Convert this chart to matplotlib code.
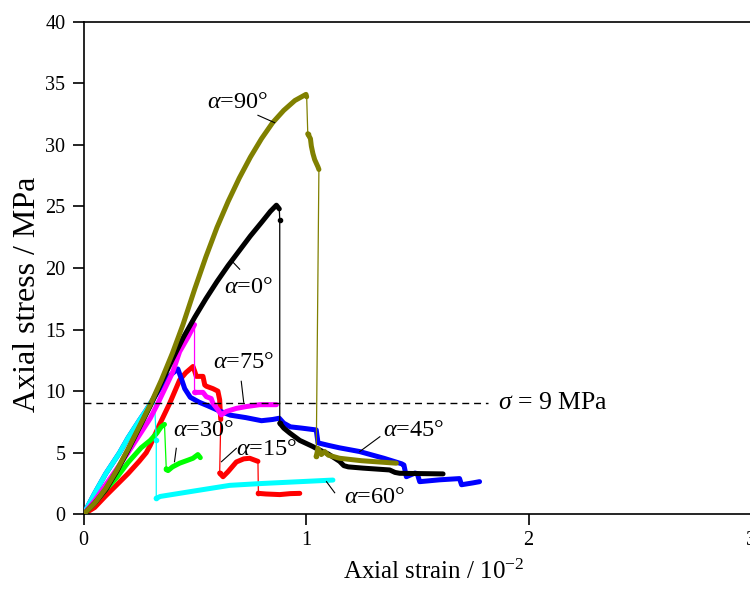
import numpy as np
import matplotlib
matplotlib.use("Agg")
import matplotlib.pyplot as plt

plt.rcParams['font.family'] = ['Liberation Serif', 'DejaVu Serif']
plt.rcParams['mathtext.fontset'] = 'custom'
plt.rcParams['mathtext.rm'] = 'Liberation Serif'
plt.rcParams['mathtext.it'] = 'Liberation Serif:italic'

# ---------------- data (strain in 1e-2, stress in MPa) ----------------
# "jumps": index i where the step from point i to i+1 is a sudden drop (thin line)
a0_strain = [0, 0.05, 0.1, 0.15, 0.2, 0.25, 0.3, 0.35, 0.4, 0.45, 0.5, 0.55, 0.6, 0.65, 0.7, 0.75,
             0.8, 0.84, 0.867, 0.88, 0.882,
             0.882, 0.9, 0.927, 0.972, 1.031, 1.046, 1.1, 1.151, 1.17, 1.19, 1.256, 1.376, 1.40, 1.421, 1.616]
a0_stress = [0, 0.9, 2.0, 3.5, 5.2, 7.0, 8.8, 10.7, 12.6, 14.4, 16.0, 17.5, 18.9, 20.2, 21.4, 22.6,
             23.7, 24.6, 25.1, 24.8, 23.9,
             7.4, 7.0, 6.6, 6.0, 5.5, 5.35, 4.9, 4.3, 3.95, 3.85, 3.75, 3.6, 3.4, 3.33, 3.28]
a0_jumps = [19, 20]

a15_strain = [0, 0.05, 0.1, 0.15, 0.2, 0.25, 0.282, 0.3, 0.342, 0.387, 0.432, 0.46, 0.492, 0.5, 0.507,
              0.537, 0.545, 0.552, 0.582, 0.604, 0.612, 0.615, 0.617,
              0.612, 0.627, 0.649, 0.687, 0.72, 0.747, 0.784,
              0.786, 0.82, 0.882, 0.93, 0.972]
a15_stress = [0, 0.55, 1.5, 2.4, 3.3, 4.3, 5.0, 5.6, 7.3, 9.0, 10.9, 11.5, 12.0, 11.6, 11.2,
              11.2, 10.5, 10.4, 10.2, 10.0, 9.3, 8.2, 7.7,
              3.35, 3.05, 3.45, 4.25, 4.5, 4.55, 4.3,
              1.7, 1.65, 1.6, 1.68, 1.7]
a15_jumps = [22, 29]

a30_strain = [0, 0.05, 0.1, 0.15, 0.2, 0.259, 0.3, 0.33, 0.349, 0.364,
              0.372, 0.38, 0.4, 0.432, 0.47, 0.492, 0.514, 0.525]
a30_stress = [0, 0.9, 2.0, 3.0, 4.2, 5.4, 6.0, 6.6, 7.1, 7.3,
              3.7, 3.55, 3.85, 4.15, 4.4, 4.55, 4.85, 4.6]
a30_jumps = [9]

a45_strain = [0, 0.05, 0.1, 0.162, 0.2, 0.25, 0.28, 0.304, 0.35, 0.39, 0.424, 0.44, 0.455, 0.48, 0.52, 0.56,
              0.61, 0.66, 0.73, 0.8, 0.85, 0.88, 0.9, 0.93, 0.98, 1.046, 1.054, 1.1, 1.15, 1.24,
              1.3, 1.35, 1.43, 1.44, 1.451, 1.49, 1.5, 1.511, 1.6, 1.69, 1.699, 1.75, 1.78]
a45_stress = [0, 1.7, 3.3, 5.0, 6.2, 7.6, 8.4, 9.1, 10.4, 11.3, 11.8, 11.0, 10.2, 9.5, 9.1, 8.8,
              8.4, 8.05, 7.85, 7.6, 7.7, 7.8, 7.4, 7.1, 7.0, 6.85, 5.8, 5.6, 5.4, 5.1,
              4.8, 4.55, 4.1, 4.0, 3.05, 3.35, 3.3, 2.65, 2.8, 2.9, 2.4, 2.55, 2.65]
a45_jumps = []

a60_strain = [0, 0.05, 0.1, 0.162, 0.2, 0.25, 0.28, 0.304, 0.318,
              0.327, 0.327, 0.345, 0.5, 0.657, 0.8, 0.972, 1.121]
a60_stress = [0, 1.7, 3.3, 5.0, 6.2, 7.6, 8.4, 9.1, 9.5,
              6.06, 1.3, 1.45, 1.9, 2.35, 2.5, 2.65, 2.78]
a60_jumps = [8, 9]

a75_strain = [0, 0.05, 0.1, 0.15, 0.2, 0.25, 0.3, 0.334, 0.4, 0.432, 0.47, 0.499,
              0.499, 0.52, 0.537, 0.552, 0.574, 0.582, 0.604, 0.619, 0.642, 0.687, 0.732, 0.792, 0.867]
a75_stress = [0, 1.1, 2.4, 3.7, 5.0, 6.4, 7.8, 9.0, 11.5, 13.2, 14.4, 15.4,
              9.9, 9.9, 9.9, 9.55, 9.4, 9.0, 8.5, 8.07, 8.35, 8.6, 8.75, 8.9, 8.9]
a75_jumps = [11]

a90_strain = [0, 0.05, 0.1, 0.15, 0.2, 0.25, 0.3, 0.35, 0.4, 0.447, 0.5, 0.55, 0.6, 0.65, 0.7,
              0.75, 0.8, 0.85, 0.9, 0.95, 1.0, 1.003,
              1.008, 1.02, 1.024, 1.031, 1.039, 1.054, 1.058,
              1.046, 1.054, 1.069, 1.084, 1.1, 1.151, 1.25, 1.406]
a90_stress = [0, 0.9, 2.1, 3.6, 5.3, 7.1, 8.9, 10.9, 13.1, 15.4, 18.3, 20.9, 23.3, 25.4, 27.3,
              29.0, 30.5, 31.8, 32.8, 33.6, 34.1, 33.9,
              30.9, 30.5, 29.9, 29.3, 28.8, 28.2, 28.0,
              4.7, 5.35, 4.85, 5.1, 4.8, 4.55, 4.35, 4.15]
a90_jumps = [21, 28]

threshold = 9.0
threshold_end = 1.82

x_ticks = [0, 1, 2, 3]
y_ticks = [0, 5, 10, 15, 20, 25, 30, 35, 40]

series = [
    ("15", a15_strain, a15_stress, a15_jumps, "#FF0000", 2),
    ("30", a30_strain, a30_stress, a30_jumps, "#00FF00", 3),
    ("45", a45_strain, a45_stress, a45_jumps, "#0000FF", 4),
    ("60", a60_strain, a60_stress, a60_jumps, "#00FFFF", 5),
    ("75", a75_strain, a75_stress, a75_jumps, "#FF00FF", 6),
    ("0", a0_strain, a0_stress, a0_jumps, "#000000", 7),
    ("90", a90_strain, a90_stress, a90_jumps, "#808000", 8),
]

# label text positions, leader line start (on curve) -> end (near text)
labels = {
    "90": ((0.693, 33.4), (0.859, 31.8), (0.784, 32.4)),
    "0": ((0.742, 18.4), (0.665, 20.6), (0.702, 19.9)),
    "75": ((0.72, 12.3), (0.72, 9.1), (0.709, 10.8)),
    "45": ((1.485, 6.77), (1.242, 5.1), (1.332, 6.3)),
    "60": ((1.309, 1.35), (1.092, 2.65), (1.129, 1.75)),
    "15": ((0.823, 5.3), (0.62, 4.27), (0.687, 5.36)),
    "30": ((0.54, 6.77), (0.409, 4.27), (0.417, 5.36)),
}

fig = plt.figure(figsize=(7.5, 5.9), dpi=100)
ax = fig.add_axes([83.5 / 750, (590 - 514.3) / 590, (751 - 83.5) / 750, (514.3 - 21.7) / 590])

for name, xs, ys, jumps, color, z in series:
    xs = np.asarray(xs, float)
    ys = np.asarray(ys, float)
    ax.plot(xs, ys, color=color, lw=0.9, zorder=z)
    tx, ty = [], []
    for i in range(len(xs)):
        tx.append(xs[i]); ty.append(ys[i])
        if i in jumps:
            tx.append(np.nan); ty.append(np.nan)
    ax.plot(tx, ty, color=color, lw=3.6, solid_joinstyle='round', solid_capstyle='round', zorder=z)
    for j in jumps:
        ax.plot([xs[j + 1]], [ys[j + 1]], marker='o', ms=3, color=color, zorder=z)

ax.plot([0, threshold_end], [threshold, threshold], color='black', lw=1.0, dashes=(5, 3.5), zorder=9)
ax.text(threshold_end + 0.045, threshold, r'$\sigma$ = 9 MPa', fontsize=18.5, va='center', ha='left')

for name, (tpos, p0, p1) in labels.items():
    ax.plot([p0[0], p1[0]], [p0[1], p1[1]], color='black', lw=0.8, zorder=10)
    ax.text(tpos[0], tpos[1], r'$\alpha$=' + name + '°', fontsize=17.5, ha='center', va='center', zorder=10)

ax.set_xlim(0, 3)
ax.set_ylim(0, 40)
ax.set_xticks(x_ticks)
ax.set_yticks(y_ticks)
ax.tick_params(direction='out', length=8, width=1.2, labelsize=14.5, top=False, right=False, pad=4)
ax.tick_params(axis='y', pad=5)
for s in ax.spines.values():
    s.set_linewidth(1.2)
ax.set_xlabel(r'Axial strain / 10$^{\mathregular{-2}}$', fontsize=18)
ax.xaxis.set_label_coords(0.525, -0.093)
ax.set_ylabel('Axial stress / MPa', fontsize=23)
ax.yaxis.set_label_coords(-0.062, 0.447)

fig.savefig('out.png', dpi=100)
